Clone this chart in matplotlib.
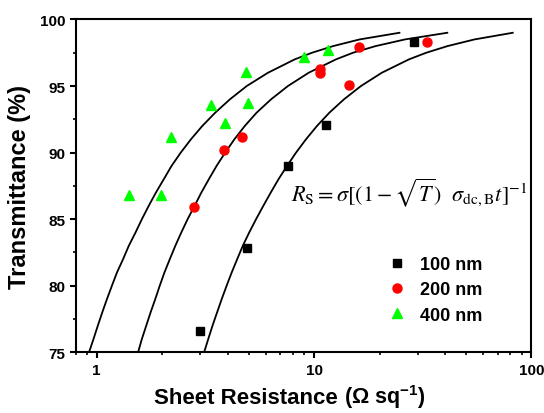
import matplotlib.pyplot as plt
from matplotlib.ticker import MultipleLocator, LogLocator, NullFormatter, FixedLocator

plt.rcParams['font.family'] = ['Liberation Sans', 'DejaVu Sans']
plt.rcParams['mathtext.fontset'] = 'custom'
plt.rcParams['mathtext.rm'] = 'Liberation Sans:bold'
plt.rcParams['mathtext.bf'] = 'Liberation Sans:bold'

# measured points (sheet resistance, transmittance %)
rs_100 = [2.99, 4.89, 7.59, 11.3, 28.7]
t_100 = [76.6, 82.8, 89.0, 92.1, 98.3]

rs_200 = [2.80, 3.84, 4.65, 10.6, 10.6, 14.5, 16.1, 33.0]
t_200 = [85.9, 90.2, 91.2, 96.3, 96.0, 95.1, 97.95, 98.3]

rs_400 = [1.41, 1.98, 2.20, 3.36, 3.89, 4.86, 4.97, 8.99, 11.6]
t_400 = [86.85, 86.8, 91.2, 93.55, 92.25, 96.05, 93.7, 97.2, 97.7]

# fitted curves at these transmittance levels
fit_t = [75, 76, 77, 78, 79, 80, 81, 82, 83, 84, 85, 86, 87, 88, 89, 90,
         91, 92, 93, 94, 95, 96, 97, 97.5, 98, 98.5, 99]
fit_100_rs = [3.12, 3.26, 3.41, 3.58, 3.76, 3.96, 4.18, 4.43, 4.70, 5.03, 5.41, 5.84, 6.32, 6.86,
              7.51, 8.26, 9.18, 10.31, 11.76, 13.72, 16.43, 20.5, 27.3, 32.8, 41.1, 54.7, 82.0]
fit_200_rs = [1.55, 1.614, 1.69, 1.77, 1.86, 1.95, 2.05, 2.17, 2.30, 2.45, 2.62, 2.82, 3.03, 3.28,
              3.56, 3.90, 4.30, 4.80, 5.44, 6.34, 7.58, 9.45, 12.6, 15.1, 19.2, 26.2, 41.0]
fit_400_rs = [0.922, 0.967, 1.012, 1.061, 1.115, 1.175, 1.24, 1.323, 1.405, 1.509, 1.614, 1.735,
              1.873, 2.035, 2.21, 2.436, 2.714, 3.06, 3.51, 4.10, 4.90, 6.14, 8.14, 9.78, 12.24,
              16.2, 24.7]

fig = plt.figure(figsize=(5.44, 4.14), dpi=100)
ax = fig.add_axes([0.139, 0.1466, 0.838, 0.804])

for xs in [fit_100_rs, fit_200_rs, fit_400_rs]:
    ax.plot(xs, fit_t, color='black', lw=1.3)

ax.plot(rs_100, t_100, 's', color='black', ms=5.5, label='100 nm')
ax.plot(rs_200, t_200, 'o', color='#ff0000', ms=6.5, label='200 nm')
ax.plot(rs_400, t_400, '^', color='#00ff00', ms=7.5, label='400 nm')

ax.set_xscale('log')
ax.set_xlim(0.8, 100)
ax.set_ylim(75, 100)
ax.xaxis.set_major_locator(FixedLocator([1, 10, 100]))
ax.xaxis.set_major_formatter(plt.FuncFormatter(lambda v, p: '%g' % v))
ax.xaxis.set_minor_locator(LogLocator(base=10, subs=range(2, 10)))
ax.xaxis.set_minor_formatter(NullFormatter())
ax.yaxis.set_major_locator(MultipleLocator(5))
ax.yaxis.set_minor_locator(MultipleLocator(2.5))

for s in ax.spines.values():
    s.set_linewidth(1.5)
ax.tick_params(which='major', direction='out', length=4, width=1.5, labelsize=11)
ax.tick_params(which='minor', direction='out', length=2.5, width=1.2)
for lab in ax.get_xticklabels() + ax.get_yticklabels():
    lab.set_fontweight('bold')

ax.set_ylabel('Transmittance (%)', fontsize=17, fontweight='bold', labelpad=6)
fig.text(0.632, 0.025, 'Sheet Resistance ', fontsize=16, fontweight='bold', ha='right', va='baseline')
fig.text(0.632, 0.025, r'($\mathbf{\Omega}$ sq$^{\mathbf{-1}}$)', fontsize=15.5, fontweight='bold',
         ha='left', va='baseline')

ax.text(0.4715, 0.456, r'$R_{\mathrm{S}} = \sigma[(1-\sqrt{T})\ \ \sigma_{\mathrm{dc,B}}t]^{-1}$',
        transform=ax.transAxes, fontsize=16, math_fontfamily='stix',
        va='baseline', ha='left')

ax.legend(loc='upper left', bbox_to_anchor=(0.665, 0.31), frameon=False,
          prop={'size': 13, 'weight': 'bold'},
          handlelength=1.2, handletextpad=0.7, labelspacing=0.45, borderaxespad=0)

fig.savefig('out.png', dpi=100)
